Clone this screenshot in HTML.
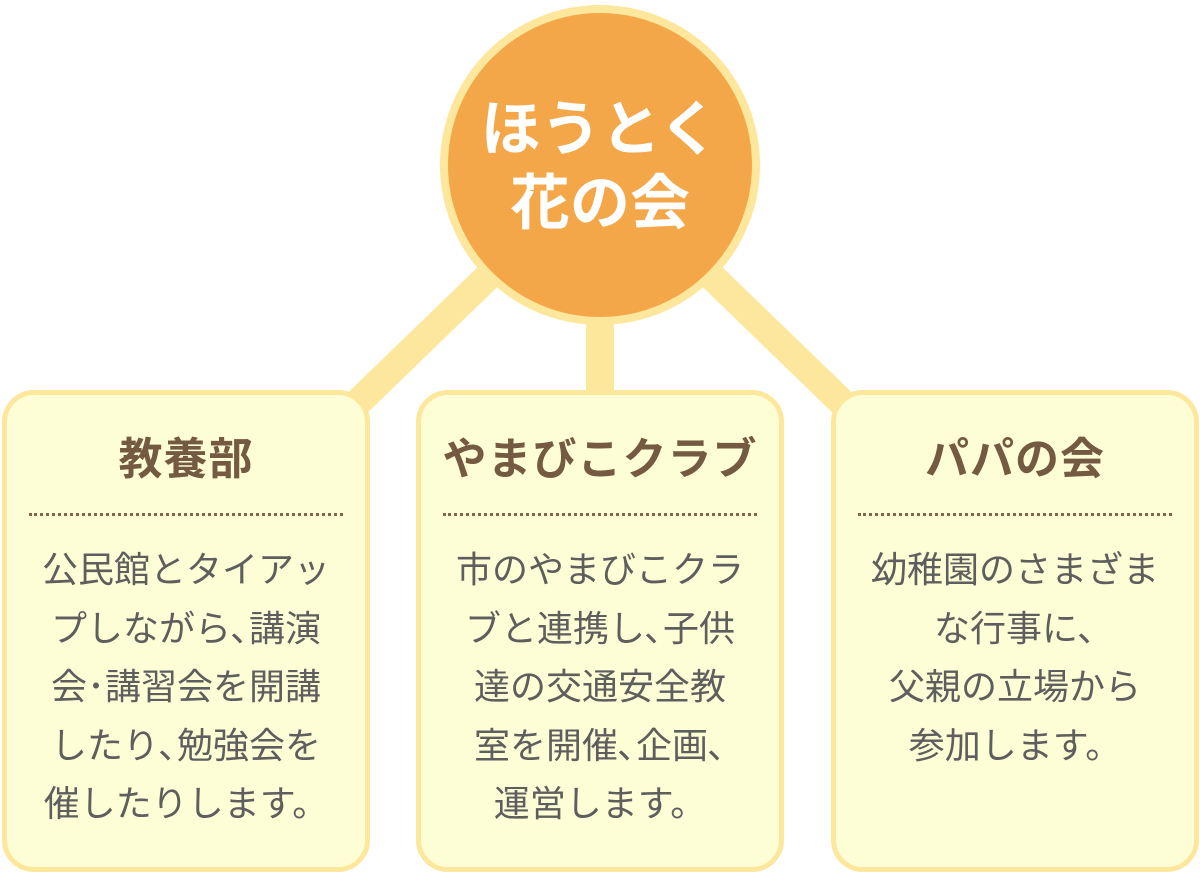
<!DOCTYPE html>
<html><head><meta charset="utf-8"><style>
body{margin:0;width:1200px;height:870px;background:#fff;position:relative;overflow:hidden;font-family:"Liberation Sans","Noto Sans CJK JP",sans-serif}
.box{position:absolute;top:390px;width:358px;height:472px;background:#fefed6;border:5px solid #fde79c;border-radius:32px;box-sizing:content-box}
.t{position:absolute;top:40px;left:0;right:0;text-align:center;font-size:44px;font-weight:bold;color:#735a41;line-height:50px;letter-spacing:1px}
.d{position:absolute;top:118px;left:22px;right:22px;border-top:3px dotted #806548}
.b{position:absolute;top:146px;left:-10px;right:-10px;text-align:center;font-size:36px;color:#5e5e5e;line-height:58.5px}
.c{position:absolute;left:440px;top:5px;width:304px;height:304px;border-radius:50%;background:#f4a748;border:8px solid #fde79c;box-sizing:content-box}
.ct{position:absolute;left:-20px;right:-20px;top:80px;text-align:center;color:#fff;font-weight:bold;font-size:60px;line-height:74px}
</style></head><body>
<svg width="1200" height="870" style="position:absolute;left:0;top:0">
<g stroke="#fde79c" stroke-width="28">
<line x1="500" y1="265" x2="345" y2="415"/>
<line x1="600" y1="300" x2="600" y2="395"/>
<line x1="700" y1="265" x2="855" y2="415"/>
</g></svg>
<div class="c"><div class="ct">ほうとく<br>花の会</div></div>
<div class="box" style="left:2px"><div class="t">教養部</div><div class="d"></div><div class="b">公民館とタイアッ<br>プしながら､講演<br>会･講習会を開講<br>したり､勉強会を<br>催したりします。</div></div>
<div class="box" style="left:416px"><div class="t">やまびこクラブ</div><div class="d"></div><div class="b">市のやまびこクラ<br>ブと連携し､子供<br>達の交通安全教<br>室を開催､企画､<br>運営します。</div></div>
<div class="box" style="left:831px"><div class="t">パパの会</div><div class="d"></div><div class="b">幼稚園のさまざま<br>な行事に､<br>父親の立場から<br>参加します。</div></div>
</body></html>
